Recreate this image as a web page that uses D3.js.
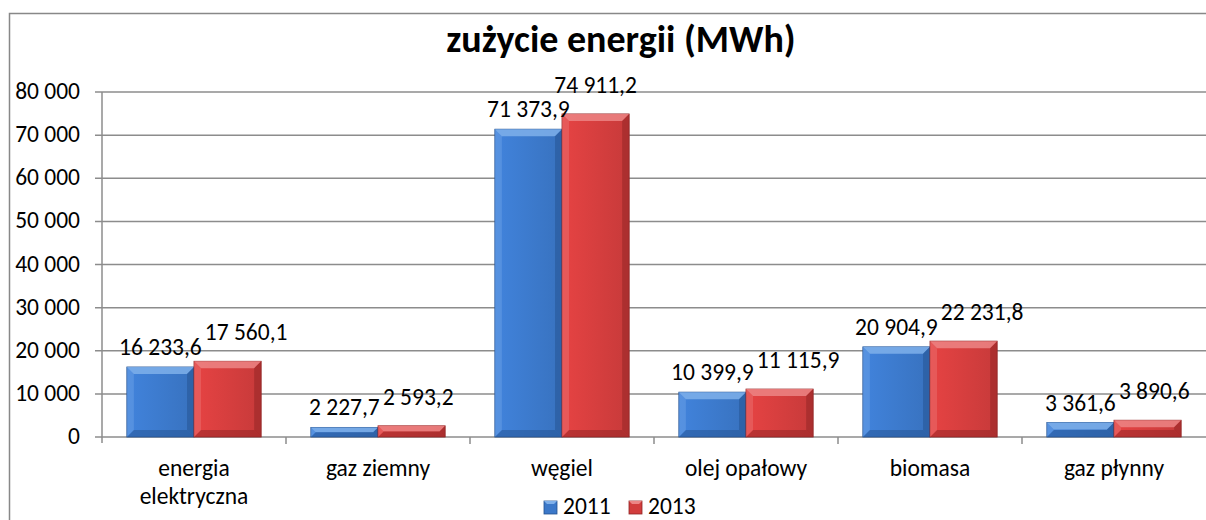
<!DOCTYPE html>
<html>
<head>
<meta charset="utf-8">
<title>zużycie energii</title>
<style>
  body { margin: 0; background: #fff; }
  svg { font-family: Carlito, Calibri, Lato, "Open Sans", sans-serif; }
</style>
</head>
<body>
<script src="https://cdn.jsdelivr.net/npm/d3@7"></script>
<script>
// dane
var categories = [["energia", "elektryczna"], ["gaz ziemny"], ["węgiel"], ["olej opałowy"], ["biomasa"], ["gaz płynny"]];
var years = ["2011", "2013"];
var values2011 = [16233.6, 2227.7, 71373.9, 10399.9, 20904.9, 3361.6];
var values2013 = [17560.1, 2593.2, 74911.2, 11115.9, 22231.8, 3890.6];
var yTicks = [0, 10000, 20000, 30000, 40000, 50000, 60000, 70000, 80000];

var width = 1206, height = 520;
var plotLeft = 102, plotRight = 1206, plotTop = 92, plotBottom = 437;
var colors = { "2011": "#3b78c9", "2013": "#d23d3d" };
var dark = { "2011": "#24528f", "2013": "#8f2424" };
var light = { "2011": "#7fb0ea", "2013": "#ec8585" };
var labelGap = { "2011": 12, "2013": 21 };
var fs = "23.5px";

var fmt = function(v, dec) {
    var s = dec ? v.toFixed(1) : String(Math.round(v));
    var parts = s.split(".");
    var ip = parts[0].replace(/\B(?=(\d{3})+(?!\d))/g, " ");
    return parts.length > 1 ? ip + "," + parts[1] : ip;
};

var svg = d3.select("body").append("svg")
    .attr("width", width)
    .attr("height", height)
    .style("display", "block");

// ramka wykresu
svg.append("path")
    .attr("d", "M9.5," + height + " V13.5 H" + (width + 1))
    .attr("fill", "none")
    .attr("stroke", "#888")
    .attr("stroke-width", 1.5);

// tytuł
svg.append("text")
    .attr("x", 621).attr("y", 52)
    .attr("text-anchor", "middle")
    .style("font-size", "38px")
    .style("font-weight", "bold")
    .text("zużycie energii (MWh)");

var x0 = d3.scaleBand()
    .domain(d3.range(categories.length))
    .range([plotLeft, plotRight]);

var x1 = d3.scaleBand()
    .domain(years)
    .range([0, x0.bandwidth()])
    .paddingOuter(0.37)
    .paddingInner(0);

var y = d3.scaleLinear()
    .domain([0, 80000])
    .range([plotBottom, plotTop]);

// linie siatki
svg.append("g").selectAll("line")
    .data(yTicks)
    .enter().append("line")
    .attr("x1", plotLeft - 7).attr("x2", plotRight)
    .attr("y1", function(d) { return y(d); })
    .attr("y2", function(d) { return y(d); })
    .attr("stroke", "#8c8c8c")
    .attr("stroke-width", 1.5);

// oś Y
svg.append("line")
    .attr("x1", plotLeft).attr("x2", plotLeft)
    .attr("y1", plotTop).attr("y2", plotBottom + 6)
    .attr("stroke", "#8c8c8c").attr("stroke-width", 1.5);

svg.append("g").selectAll("text")
    .data(yTicks)
    .enter().append("text")
    .attr("x", 80)
    .attr("y", function(d) { return y(d) + 7; })
    .attr("text-anchor", "end")
    .style("font-size", fs)
    .text(function(d) { return fmt(d, false); });

// znaczniki kategorii
svg.append("g").selectAll("line")
    .data(d3.range(1, categories.length))
    .enter().append("line")
    .attr("x1", function(d) { return x0(d); })
    .attr("x2", function(d) { return x0(d); })
    .attr("y1", plotBottom).attr("y2", plotBottom + 7)
    .attr("stroke", "#8c8c8c").attr("stroke-width", 1.5);

// etykiety kategorii
var cat = svg.append("g").selectAll("text")
    .data(categories)
    .enter().append("text")
    .attr("text-anchor", "middle")
    .style("font-size", fs)
    .attr("x", function(d, i) { return x0(i) + x0.bandwidth() / 2; })
    .attr("y", 476);
cat.selectAll("tspan")
    .data(function(d) { return d; })
    .enter().append("tspan")
    .attr("x", function() { return d3.select(this.parentNode).attr("x"); })
    .attr("dy", function(d, i) { return i ? 28 : 0; })
    .text(function(d) { return d; });

// gradienty
var defs = svg.append("defs");
years.forEach(function(yr) {
    var g = defs.append("linearGradient").attr("id", "g" + yr)
        .attr("x1", 0).attr("x2", 1).attr("y1", 0).attr("y2", 0);
    g.append("stop").attr("offset", 0).attr("stop-color", d3.color(colors[yr]).brighter(0.25));
    g.append("stop").attr("offset", 1).attr("stop-color", d3.color(colors[yr]).darker(0.15));
});

var rows = [];
values2011.forEach(function(v, i) {
    rows.push({ i: i, year: "2011", v: v });
    rows.push({ i: i, year: "2013", v: values2013[i] });
});

function bevel(d) {
    var x = x0(d.i) + x1(d.year), w = x1.bandwidth();
    var yt = y(d.v), yb = y(0), h = yb - yt;
    var b = Math.min(7, h / 2, w / 2);
    return { x: x, w: w, yt: yt, yb: yb, b: b };
}

var bars = svg.append("g").selectAll("g")
    .data(rows)
    .enter().append("g");

bars.append("rect")
    .attr("x", function(d) { return bevel(d).x; })
    .attr("y", function(d) { return bevel(d).yt; })
    .attr("width", function(d) { return bevel(d).w; })
    .attr("height", function(d) { return bevel(d).yb - bevel(d).yt; })
    .attr("fill", function(d) { return "url(#g" + d.year + ")"; })
    .attr("stroke", function(d) { return dark[d.year]; })
    .attr("stroke-width", 0.8);

// górna krawędź
bars.append("path")
    .attr("d", function(d) {
        var p = bevel(d);
        return "M" + p.x + "," + p.yt + "H" + (p.x + p.w) + "L" + (p.x + p.w - p.b) + "," + (p.yt + p.b) +
            "H" + (p.x + p.b) + "Z";
    })
    .attr("fill", function(d) { return light[d.year]; })
    .attr("opacity", 0.85);

// prawa krawędź
bars.append("path")
    .attr("d", function(d) {
        var p = bevel(d);
        return "M" + (p.x + p.w) + "," + p.yt + "V" + p.yb + "L" + (p.x + p.w - p.b) + "," + (p.yb - p.b) +
            "V" + (p.yt + p.b) + "Z";
    })
    .attr("fill", function(d) { return dark[d.year]; })
    .attr("opacity", 0.5);

// dolna krawędź
bars.append("path")
    .attr("d", function(d) {
        var p = bevel(d);
        return "M" + p.x + "," + p.yb + "H" + (p.x + p.w) + "L" + (p.x + p.w - p.b) + "," + (p.yb - p.b) +
            "H" + (p.x + p.b) + "Z";
    })
    .attr("fill", function(d) { return dark[d.year]; })
    .attr("opacity", 0.5);

// lewa krawędź
bars.append("path")
    .attr("d", function(d) {
        var p = bevel(d);
        return "M" + p.x + "," + p.yt + "V" + p.yb + "L" + (p.x + p.b) + "," + (p.yb - p.b) +
            "V" + (p.yt + p.b) + "Z";
    })
    .attr("fill", function(d) { return light[d.year]; })
    .attr("opacity", 0.35);

// etykiety wartości
var labels = svg.append("g").selectAll("text")
    .data(rows)
    .enter().append("text")
    .attr("text-anchor", "middle")
    .style("font-size", fs)
    .attr("x", function(d) { return x0(d.i) + x1(d.year) + x1.bandwidth() / 2; })
    .attr("y", function(d) { return y(d.v) - labelGap[d.year]; })
    .text(function(d) { return fmt(d.v, true); });

// przesunięcie etykiet 2013, gdy nachodzą na etykiety 2011
var nodes = labels.nodes();
for (var k = 0; k < nodes.length; k += 2) {
    var a = nodes[k].getBBox(), b = nodes[k + 1].getBBox();
    var dy = Math.abs(+nodes[k].getAttribute("y") - +nodes[k + 1].getAttribute("y"));
    if (dy < 17 && b.x < a.x + a.width + 3) {
        var shift = a.x + a.width + 3 - b.x;
        d3.select(nodes[k + 1]).attr("x", +nodes[k + 1].getAttribute("x") + shift);
    }
}

// legenda
var legend = svg.append("g").attr("transform", "translate(544,501)");
years.forEach(function(yr, k) {
    var lg = legend.append("g").attr("transform", "translate(" + (k * 85) + ",0)");
    lg.append("rect").attr("width", 13).attr("height", 13)
        .attr("fill", colors[yr]).attr("stroke", dark[yr]).attr("stroke-width", 0.8);
    lg.append("path").attr("d", "M0,0H13L10,3H3Z").attr("fill", light[yr]);
    lg.append("text").attr("x", 19).attr("y", 12.5)
        .style("font-size", fs)
        .text(yr);
});
</script>
</body>
</html>
